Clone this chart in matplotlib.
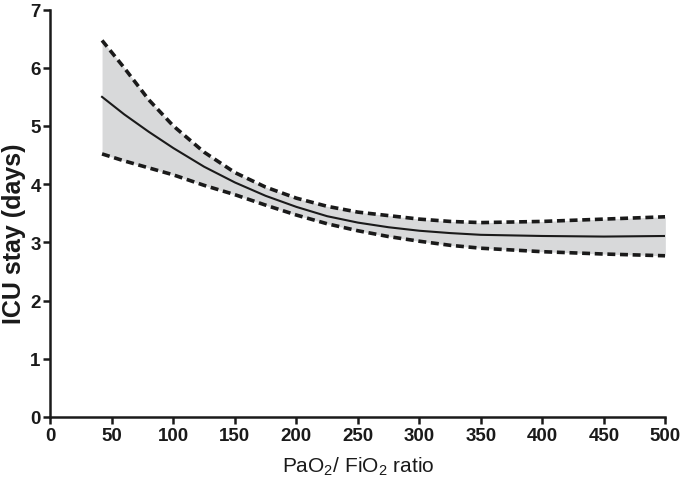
import matplotlib
matplotlib.use("Agg")
import matplotlib.pyplot as plt

plt.rcParams['font.family'] = ['Liberation Sans', 'DejaVu Sans']
plt.rcParams['mathtext.fontset'] = 'custom'
plt.rcParams['mathtext.rm'] = 'Liberation Sans'

# PaO2/FiO2 ratio and estimated ICU stay (days) with confidence band
ratio = [42, 60, 80, 100, 125, 150, 175, 200, 225, 250, 275, 300, 325, 350, 400, 450, 500]
stay = [5.50, 5.20, 4.90, 4.62, 4.30, 4.03, 3.80, 3.61, 3.45, 3.34, 3.26, 3.20, 3.16, 3.13, 3.11, 3.10, 3.11]
upper = [6.47, 6.00, 5.45, 5.00, 4.55, 4.20, 3.95, 3.76, 3.62, 3.52, 3.46, 3.40, 3.36, 3.34, 3.36, 3.40, 3.44]
lower = [4.52, 4.40, 4.28, 4.16, 3.98, 3.82, 3.64, 3.47, 3.32, 3.20, 3.10, 3.02, 2.95, 2.90, 2.84, 2.80, 2.77]

fig = plt.figure(figsize=(6.81, 4.81), dpi=100)
ax = fig.add_axes([0.074, 0.131, 0.903, 0.847])

ax.fill_between(ratio, lower, upper, color='#d8d9da', lw=0)
ax.plot(ratio, stay, color='#1a1a1a', lw=1.5)
ax.plot(ratio, upper, color='#1a1a1a', lw=2.6, ls=(0, (2.2, 1.3)))
ax.plot(ratio, lower, color='#1a1a1a', lw=2.6, ls=(0, (2.2, 1.3)))

ax.set_xlim(0, 500)
ax.set_ylim(0, 7)
ax.set_xticks(range(0, 501, 50))
ax.set_yticks(range(0, 8))

for s in ['top', 'right']:
    ax.spines[s].set_visible(False)
for s in ['left', 'bottom']:
    ax.spines[s].set_linewidth(1.8)
    ax.spines[s].set_color('#1a1a1a')

ax.tick_params(width=1.8, length=5, color='#1a1a1a', labelsize=13.5, pad=2)
for lab in ax.get_xticklabels() + ax.get_yticklabels():
    lab.set_fontweight('bold')
    lab.set_color('#1a1a1a')

ax.set_xlabel('PaO$_2$/ FiO$_2$ ratio', fontsize=15, color='#1a1a1a', labelpad=8)
ax.set_ylabel('ICU stay (days)', fontsize=18, fontweight='bold', color='#1a1a1a')
ax.yaxis.set_label_coords(-0.040, 0.452)

fig.savefig('out.png', dpi=100)
